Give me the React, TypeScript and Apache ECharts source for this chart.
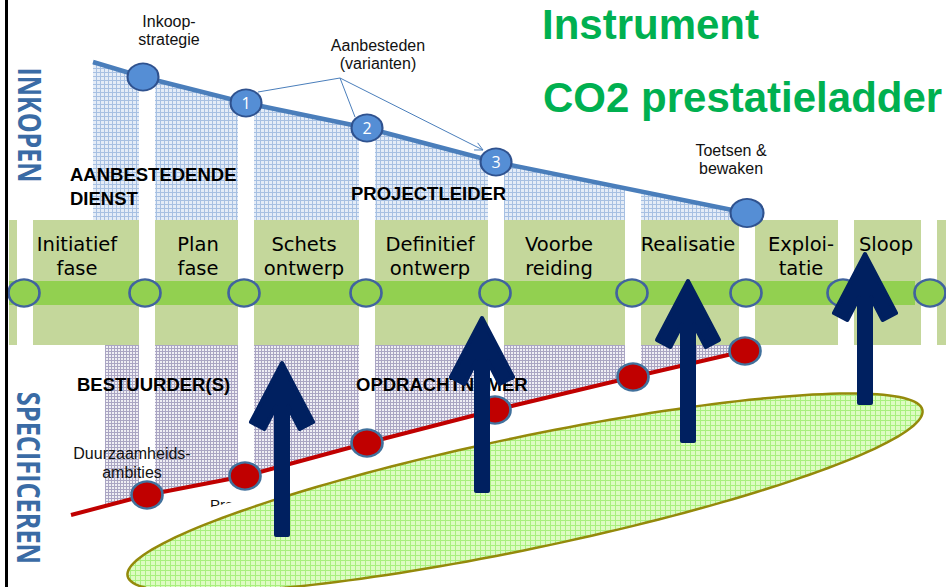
import { useEffect, useRef } from 'react';
import * as echarts from 'echarts';

const W = 946;
const H = 587;

// ---- phase row ----
const phaseNames = ['Initiatief\nfase', 'Plan\nfase', 'Schets\nontwerp', 'Definitief\nontwerp', 'Voorbe\nreiding', 'Realisatie', 'Exploi-\ntatie', 'Sloop'];
const phaseNameX = [77, 198, 304, 430, 559, 688, 801, 886];
const phaseBoxStart = [9, 33, 155, 254, 375, 504, 641, 755, 854, 937];
const phaseBoxEnd = [17, 139, 238, 359, 488, 625, 739, 838, 921, 946];
const gapStart = [139, 238, 359, 488, 625, 739];
const gapEnd = [155, 254, 375, 504, 641, 755];
const milestoneX = [24, 145, 244, 366, 495, 632, 746, 843, 930];
const barStart = [9];
const barEnd = [915];

// ---- INKOPEN (blue) line ----
const inkoopX = [93, 143, 246, 367, 496, 747];
const inkoopY = [62, 77, 103, 128, 162, 213];
const inkoopMarkerX = [143, 246, 367, 496, 747];
const inkoopMarkerY = [77, 103, 128, 162, 213];
const inkoopMarkerText = ['', '1', '2', '3', ''];

// ---- SPECIFICEREN (red) line ----
const specX = [71, 147, 245, 367, 495, 633, 745];
const specY = [515, 495, 476, 443, 410, 377, 351];
const specHatchX = [105, 147, 245, 367, 495, 633, 745];
const specHatchY = [506, 495, 476, 443, 410, 377, 351];

// ---- arrows ----
const arrowX = [282, 482, 688, 865];
const arrowTipY = [361, 316, 279, 252];
const arrowBaseY = [537, 493, 443, 405];

// ---- ellipse ----
const ellipseCenter = [[525, 493]];

// layout constants
const BOX_TOP = 220;
const BOX_BOTTOM = 345;
const BAR_TOP = 281;
const BAR_BOTTOM = 305;
const MILESTONE_Y = 293;
const ELL_RX = 406;
const ELL_RY = 56;
const ELL_ANGLE = (11.8 * Math.PI) / 180;

const FONT = '"Open Sans", "Noto Sans", sans-serif';
const SANS = '"Liberation Sans", Arial, sans-serif';
const PHASE_FONT = '"DejaVu Sans", sans-serif';
const NAVY = '#002060';

function makePattern(size: number, bg: string, line: string, fallback: string): any {
  try {
    const cv = document.createElement('canvas');
    cv.width = size;
    cv.height = size;
    const ctx = cv.getContext('2d');
    if (!ctx) return fallback;
    ctx.fillStyle = bg;
    ctx.fillRect(0, 0, size, size);
    ctx.fillStyle = line;
    ctx.fillRect(0, 0, size, 1);
    ctx.fillRect(0, 0, 1, size);
    return { image: cv, repeat: 'repeat' };
  } catch (e) {
    return fallback;
  }
}

function txt(text: string, x: number, y: number, font: string, o: any = {}) {
  return {
    type: 'text',
    x,
    y,
    z: o.z ?? 5,
    silent: true,
    rotation: o.rotation ?? 0,
    scaleX: o.scaleX ?? 1,
    style: {
      text,
      font,
      fill: o.fill ?? '#111111',
      textAlign: o.align ?? 'center',
      align: o.align ?? 'center',
      textVerticalAlign: 'middle',
      verticalAlign: 'middle',
      lineHeight: o.lh ?? undefined,
    },
  };
}

function buildOption() {
  const calloutFrom = [340, 78];
  const calloutTo = [[258, 92], [355, 117], [483, 150]];
  const last = calloutTo[2];
  const dl = Math.hypot(last[0] - calloutFrom[0], last[1] - calloutFrom[1]);
  const ux = (last[0] - calloutFrom[0]) / dl;
  const uy = (last[1] - calloutFrom[1]) / dl;

  const upperFill = makePattern(4, '#E4ECF7', '#A7C0E2', '#D2DFF1');
  const lowerFill = makePattern(3, '#EFEEF4', '#AAA5C3', '#D8D5E6');
  const ellFill = makePattern(5, '#DDFCC2', '#A8F07E', '#D0F8AC');

  const graphics: any[] = [
    // left border
    { type: 'rect', z: 9, silent: true, shape: { x: 5, y: 0, width: 3, height: H }, style: { fill: '#000' } },
    // white mask hiding partial labels
    {
      type: 'polygon', z: 4, silent: true,
      shape: { points: [[60, 543], [800, 367], [800, 430], [60, 600]] },
      style: { fill: '#ffffff' },
    },
    // callout lines
    {
      type: 'polyline', z: 6, silent: true,
      shape: { points: [calloutTo[0], calloutFrom, calloutTo[1]] },
      style: { stroke: '#4A7EBB', lineWidth: 1, fill: null },
    },
    {
      type: 'polyline', z: 6, silent: true,
      shape: { points: [calloutFrom, last] },
      style: { stroke: '#4A7EBB', lineWidth: 1, fill: null },
    },
    {
      type: 'polyline', z: 6, silent: true,
      shape: {
        points: [
          [last[0] - 8 * ux - 4 * uy, last[1] - 8 * uy + 4 * ux],
          last,
          [last[0] - 8 * ux + 4 * uy, last[1] - 8 * uy - 4 * ux],
        ],
      },
      style: { stroke: '#4A7EBB', lineWidth: 1, fill: null },
    },
    // titles
    txt('Instrument', 542, 24, `bold 42px ${SANS}`, { fill: '#00B050', align: 'left' }),
    txt('CO2 prestatieladder', 543, 97.5, `bold 42px ${SANS}`, { fill: '#00B050', align: 'left' }),
    // vertical side titles
    txt('INKOPEN', 31, 125, `bold 32px ${FONT}`, { fill: '#3A6BA5', rotation: -Math.PI / 2, scaleX: 0.78 }),
    txt('SPECIFICEREN', 30, 478, `bold 32px ${FONT}`, { fill: '#3A6BA5', rotation: -Math.PI / 2, scaleX: 0.79 }),
    // small labels
    txt('Inkoop-\nstrategie', 169, 30.5, `16px ${SANS}`, { lh: 18.5 }),
    txt('Aanbesteden\n(varianten)', 378, 54.5, `16px ${SANS}`, { lh: 18.5 }),
    txt('Toetsen &\nbewaken', 731, 159.5, `16px ${SANS}`, { lh: 18.5 }),
    txt('Duurzaamheids-\nambities', 132, 463, `16px ${SANS}`, { lh: 18.5 }),
    txt('Programma', 210, 504, `15px ${SANS}`, { align: 'left', z: 3 }),
    txt('Criteria', 727, 388, `15px ${SANS}`, { align: 'left', z: 3 }),
    // role labels
    txt('AANBESTEDENDE\nDIENST', 70, 186, `bold 18.5px ${SANS}`, { align: 'left', lh: 24, fill: '#000' }),
    txt('PROJECTLEIDER', 351, 193, `bold 18.5px ${SANS}`, { align: 'left', fill: '#000' }),
    txt('BESTUURDER(S)', 77, 384, `bold 18.5px ${SANS}`, { align: 'left', fill: '#000' }),
    txt('OPDRACHTNEMER', 356, 384, `bold 18.5px ${SANS}`, { align: 'left', fill: '#000' }),
  ];

  phaseNames.forEach((name, i) => {
    const twoLines = name.includes('\n');
    graphics.push(txt(name, phaseNameX[i], twoLines ? 256 : 244.5, `19.5px ${PHASE_FONT}`, { lh: 24, fill: '#000' }));
  });

  const rectRender = (top: number, bottom: number, fill: string) => (params: any, api: any) => {
    const p0 = api.coord([api.value(0), top]);
    const p1 = api.coord([api.value(1), bottom]);
    return {
      type: 'rect',
      shape: { x: p0[0], y: p0[1], width: p1[0] - p0[0], height: p1[1] - p0[1] },
      style: { fill },
    };
  };

  const series: any[] = [
    {
      type: 'line', z: 1, silent: true, symbol: 'none', showSymbol: false,
      data: inkoopX.map((x, i) => [x, inkoopY[i]]),
      lineStyle: { width: 0, opacity: 0 },
      areaStyle: { color: upperFill, opacity: 1, origin: BOX_TOP },
    },
    {
      type: 'line', z: 1, silent: true, symbol: 'none', showSymbol: false,
      data: specHatchX.map((x, i) => [x, specHatchY[i]]),
      lineStyle: { width: 0, opacity: 0 },
      areaStyle: { color: lowerFill, opacity: 1, origin: BOX_BOTTOM },
    },
    {
      type: 'custom', z: 2, silent: true,
      data: gapStart.map((s, i) => [s, gapEnd[i]]),
      renderItem: rectRender(0, H, '#ffffff'),
    },
    {
      type: 'custom', z: 3, silent: true,
      data: phaseBoxStart.map((s, i) => [s, phaseBoxEnd[i]]),
      renderItem: rectRender(BOX_TOP, BOX_BOTTOM, '#C4D79B'),
    },
    {
      type: 'custom', z: 4, silent: true,
      data: barStart.map((s, i) => [s, barEnd[i]]),
      renderItem: rectRender(BAR_TOP, BAR_BOTTOM, '#92D050'),
    },
    {
      type: 'line', z: 6, silent: true, symbol: 'none', showSymbol: false,
      data: inkoopX.map((x, i) => [x, inkoopY[i]]),
      lineStyle: { color: '#4A7EBB', width: 4.5 },
    },
    {
      type: 'line', z: 6, silent: true, symbol: 'none', showSymbol: false,
      data: specX.map((x, i) => [x, specY[i]]),
      lineStyle: { color: '#C00000', width: 4 },
    },
    {
      type: 'scatter', z: 7, silent: true,
      data: milestoneX.map((x) => [x, MILESTONE_Y]),
      symbol: 'circle', symbolSize: [31, 27],
      itemStyle: { color: '#92D050', borderColor: '#41639E', borderWidth: 2.5, opacity: 1 },
    },
    {
      type: 'scatter', z: 7, silent: true,
      data: inkoopMarkerX.map((x, i) => [x, inkoopMarkerY[i]]),
      symbol: 'circle',
      symbolSize: (v: any, p: any) => (p.dataIndex === 4 ? [33, 28] : [31, 27]),
      itemStyle: { color: '#558ED5', borderColor: '#2F528F', borderWidth: 2, opacity: 1 },
      label: {
        show: true, position: 'inside', color: '#ffffff', fontSize: 16, fontFamily: FONT,
        formatter: (p: any) => inkoopMarkerText[p.dataIndex],
      },
    },
    {
      type: 'scatter', z: 7, silent: true,
      data: specX.slice(1).map((x, i) => [x, specY[i + 1]]),
      symbol: 'circle', symbolSize: [31, 27],
      itemStyle: { color: '#C00000', borderColor: '#41719C', borderWidth: 2.5, opacity: 1 },
    },
    {
      type: 'custom', z: 8, silent: true,
      data: ellipseCenter,
      renderItem: (params: any, api: any) => {
        const cx = api.value(0);
        const cy = api.value(1);
        const pts: number[][] = [];
        const c = Math.cos(ELL_ANGLE);
        const s = Math.sin(ELL_ANGLE);
        for (let k = 0; k < 180; k++) {
          const t = (2 * Math.PI * k) / 180;
          const x = cx + ELL_RX * Math.cos(t) * c + ELL_RY * Math.sin(t) * s;
          const y = cy - ELL_RX * Math.cos(t) * s + ELL_RY * Math.sin(t) * c;
          pts.push(api.coord([x, y]));
        }
        return {
          type: 'polygon',
          shape: { points: pts },
          style: { fill: ellFill, stroke: '#948A0B', lineWidth: 2.5 },
        };
      },
    },
    {
      type: 'custom', z: 9, silent: true,
      data: arrowX.map((x, i) => [x, arrowTipY[i], arrowBaseY[i]]),
      renderItem: (params: any, api: any) => {
        const tip = api.coord([api.value(0), api.value(1) + 2]);
        const base = api.coord([api.value(0), api.value(2) - 2])[1];
        const [tx, ty] = tip;
        const ax = 31, ay = 59;
        const len = Math.hypot(ax, ay);
        const dx = ax / len, dy = ay / len;
        const T = 15, s = 6;
        const R = [tx + ax, ty + ay];
        const Ri = [R[0] - T * dy, R[1] + T * dx];
        const tj = (s + T * dy) / ax;
        const yj = ty + T * dx + tj * ay;
        const pts = [
          [tx, ty], R, Ri, [tx + s, yj], [tx + s, base], [tx - s, base], [tx - s, yj],
          [2 * tx - Ri[0], Ri[1]], [2 * tx - R[0], R[1]],
        ];
        return {
          type: 'polygon',
          shape: { points: pts },
          style: { fill: NAVY, stroke: NAVY, lineWidth: 4, lineJoin: 'round' },
        };
      },
    },
  ];

  return {
    animation: false,
    backgroundColor: '#ffffff',
    tooltip: { show: false },
    grid: { left: 0, right: 0, top: 0, bottom: 0, containLabel: false },
    xAxis: { type: 'value', min: 0, max: W, show: false },
    yAxis: { type: 'value', min: 0, max: H, inverse: true, show: false },
    series,
    graphic: { elements: graphics },
  };
}

export default function App() {
  const ref = useRef<HTMLDivElement>(null);
  useEffect(() => {
    if (!ref.current) return;
    const chart = echarts.init(ref.current, undefined, { renderer: 'svg' });
    chart.setOption(buildOption() as any);
    return () => chart.dispose();
  }, []);
  return (
    <div
      ref={ref}
      style={{ position: 'absolute', left: 0, top: 0, width: W, height: H, background: '#fff' }}
    />
  );
}
